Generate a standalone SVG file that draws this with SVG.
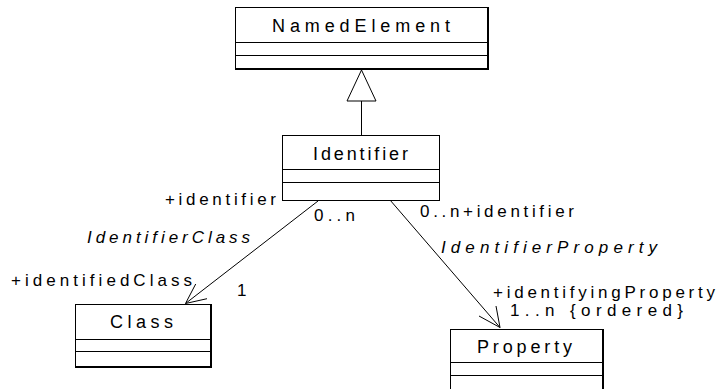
<svg xmlns="http://www.w3.org/2000/svg" width="721" height="389" viewBox="0 0 721 389">
<style>
.box{fill:#fff;stroke:#000;stroke-width:1}
.div{stroke:#000;stroke-width:1}
.sh{stroke:#000;stroke-width:2}
.name{font-family:"Liberation Sans",Arial,sans-serif;font-size:18px;fill:#000}
.lbl{font-family:"Liberation Sans",Arial,sans-serif;font-size:17px;fill:#000}
.it{font-style:italic}
.edge{fill:none;stroke:#000;stroke-width:1}
</style>
<rect width="721" height="389" fill="#fff"/>
<g id="NamedElement">
<rect class="box" x="235.5" y="7.5" width="252" height="62"/>
<line class="div" x1="235" y1="42.5" x2="488" y2="42.5"/>
<line class="div" x1="235" y1="55.5" x2="488" y2="55.5"/>
<line class="sh" x1="235" y1="69" x2="489" y2="69"/>
<line class="sh" x1="488" y1="7" x2="488" y2="70"/>
<text class="name" x="272" y="32" textLength="178" lengthAdjust="spacing">NamedElement</text>
</g>
<g id="Identifier">
<rect class="box" x="282.5" y="135.5" width="157" height="65"/>
<line class="div" x1="282" y1="169.5" x2="440" y2="169.5"/>
<line class="div" x1="282" y1="182.5" x2="440" y2="182.5"/>
<text class="name" x="313" y="160" textLength="95" lengthAdjust="spacing">Identifier</text>
</g>
<g id="Class">
<rect class="box" x="75.5" y="304.5" width="135" height="63"/>
<line class="div" x1="75" y1="339.5" x2="211" y2="339.5"/>
<line class="div" x1="75" y1="351.5" x2="211" y2="351.5"/>
<line class="sh" x1="75" y1="367" x2="212" y2="367"/>
<line class="sh" x1="211" y1="304" x2="211" y2="368"/>
<text class="name" x="110" y="328" textLength="63" lengthAdjust="spacing">Class</text>
</g>
<g id="Property">
<rect class="box" x="450.5" y="329.5" width="152" height="70"/>
<line class="div" x1="450" y1="362.5" x2="603" y2="362.5"/>
<line class="div" x1="450" y1="375.5" x2="603" y2="375.5"/>
<line class="sh" x1="603" y1="329" x2="603" y2="389"/>
<text class="name" x="477" y="353" textLength="95" lengthAdjust="spacing">Property</text>
</g>
<g id="connectors">
<line class="edge" x1="361.5" y1="101" x2="361.5" y2="135"/>
<polygon class="box" points="361.5,70 347,101 376,101"/>
<line class="edge" x1="318" y1="201" x2="185.5" y2="303.5"/>
<polyline class="edge" points="207,298.7 185.5,303.5 195.7,284"/>
<line class="edge" x1="390" y1="200" x2="500" y2="327.5"/>
<polyline class="edge" points="479,316 500,327.5 496,306"/>
</g>
<g id="labels">
<text class="lbl" x="165" y="205" textLength="111" lengthAdjust="spacing">+identifier</text>
<text class="lbl" x="314" y="221" textLength="41" lengthAdjust="spacing">0..n</text>
<text class="lbl it" x="87" y="243" textLength="163" lengthAdjust="spacing">IdentifierClass</text>
<text class="lbl" x="11" y="286" textLength="181" lengthAdjust="spacing">+identifiedClass</text>
<text class="lbl" x="237" y="296">1</text>
<text class="lbl" x="420" y="217" textLength="154" lengthAdjust="spacing">0..n+identifier</text>
<text class="lbl it" x="441" y="253" textLength="216" lengthAdjust="spacing">IdentifierProperty</text>
<text class="lbl" x="493" y="298" textLength="222" lengthAdjust="spacing">+identifyingProperty</text>
<text class="lbl" x="510" y="316" textLength="173" lengthAdjust="spacing">1..n {ordered}</text>
</g>
</svg>
